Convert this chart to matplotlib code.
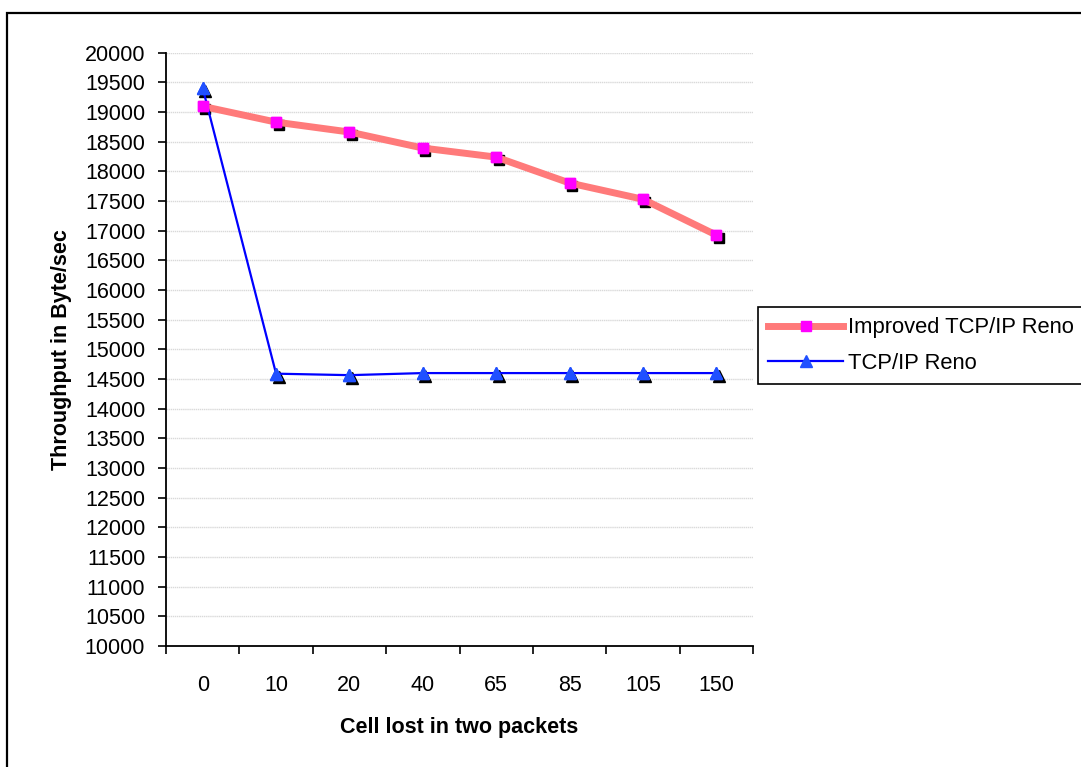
import matplotlib
matplotlib.use('Agg')
import matplotlib.pyplot as plt
import matplotlib.transforms as mtransforms
from matplotlib.patches import Rectangle

plt.rcParams['font.family'] = ['Liberation Sans', 'DejaVu Sans']

## Data
cells = ['0', '10', '20', '40', '65', '85', '105', '150']
improved = [19096, 18830, 18663, 18393, 18240, 17804, 17530, 16926]
reno = [19404, 14590, 14565, 14600, 14600, 14600, 14600, 14600]
yticks = list(range(10000, 20001, 500))

fs = 15.5

fig = plt.figure(figsize=(10.81, 7.67), dpi=100)
ax = fig.add_axes([166/1081, 1-646/767, (753-166)/1081, (646-52.7)/767])

x = list(range(len(cells)))

## Shadows under markers (offset right/down like Excel)
shadow = mtransforms.offset_copy(ax.transData, fig=fig, x=2.5, y=-3, units='dots')

ax.plot(x, improved, color='#ff7a7a', lw=5, zorder=3,
        label='Improved TCP/IP Reno', marker='s', ms=7.5,
        mfc='#ff00ff', mec='#ff00ff')
ax.plot(x, improved, ls='none', marker='s', ms=7.5, color='black',
        transform=shadow, zorder=2)
ax.plot(x, improved, ls='none', marker='s', ms=7.5, mfc='#ff00ff',
        mec='#ff00ff', zorder=4)

ax.plot(x, reno, color='#0000ff', lw=1.6, zorder=3, label='TCP/IP Reno',
        marker='^', ms=8.5, mfc='#2050ff', mec='#2050ff')
ax.plot(x, reno, ls='none', marker='^', ms=8.5, color='black',
        transform=shadow, zorder=2)
ax.plot(x, reno, ls='none', marker='^', ms=8.5, mfc='#2050ff',
        mec='#2050ff', zorder=4)

## Axes styling
ax.set_ylim(10000, 20000)
ax.set_yticks(yticks)
ax.set_xlim(-0.5, len(cells)-0.5)
ax.set_xticks(x)
ax.set_xticklabels(cells)
ax.set_xticks([i-0.5 for i in range(len(cells)+1)], minor=True)
ax.tick_params(axis='x', which='major', length=0, pad=21, labelsize=fs)
ax.tick_params(axis='x', which='minor', length=6, width=1.2, direction='out')
ax.tick_params(axis='y', length=6, width=1.2, direction='out', labelsize=fs, pad=9)
ax.grid(axis='y', color='#d9d9d9', lw=1, ls=(0, (1, 0.5)))
ax.set_axisbelow(True)
for s in ['top', 'right']:
    ax.spines[s].set_visible(False)
for s in ['left', 'bottom']:
    ax.spines[s].set_linewidth(1.3)

ax.set_xlabel('Cell lost in two packets', fontsize=fs, fontweight='bold', labelpad=15)
ax.set_ylabel('Throughput in Byte/sec', fontsize=fs, fontweight='bold', labelpad=9)

leg = fig.legend(loc='upper left', bbox_to_anchor=(758/1081, 1-307/767),
                 fontsize=15.8, handlelength=3.4, handletextpad=0.22,
                 borderpad=0.47, labelspacing=0.65, fancybox=False,
                 framealpha=1, edgecolor='black', borderaxespad=0)
leg.get_frame().set_linewidth(1.2)

## Outer chart frame
fig.patches.append(Rectangle((7/1081, -0.1), 1.2, 1-13/767+0.1,
                             transform=fig.transFigure, fill=False,
                             edgecolor='black', lw=1.6))

fig.savefig('out.png', dpi=100)
